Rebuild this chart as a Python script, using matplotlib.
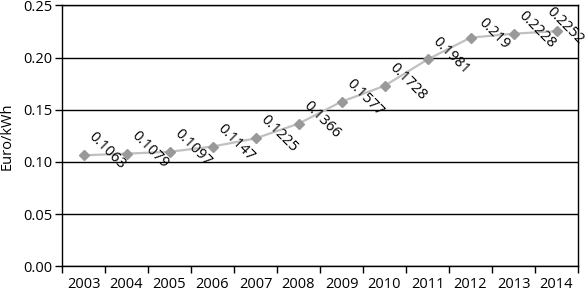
import matplotlib
matplotlib.use("Agg")
import matplotlib.pyplot as plt
import numpy as np

plt.rcParams['font.family'] = ['Open Sans', 'DejaVu Sans']

years = ["2003", "2004", "2005", "2006", "2007", "2008", "2009",
         "2010", "2011", "2012", "2013", "2014"]
values = [0.1063, 0.1079, 0.1097, 0.1147, 0.1225, 0.1366, 0.1577,
          0.1728, 0.1981, 0.219, 0.2228, 0.2252]
labels = ["0.1063", "0.1079", "0.1097", "0.1147", "0.1225", "0.1366", "0.1577",
          "0.1728", "0.1981", "0.219", "0.2228", "0.2252"]
yticks = [0.00, 0.05, 0.10, 0.15, 0.20, 0.25]
ytick_labels = ["0.00", "0.05", "0.10", "0.15", "0.20", "0.25"]

FS = 10.5

fig = plt.figure(figsize=(5.87, 2.96), dpi=100)
ax = fig.add_axes([62/587, 1-266.3/296, (578-62)/587, (266.3-5.3)/296])

x = np.arange(len(years)) + 0.5
ax.plot(x, values, color='#c0c0c0', lw=1.6, zorder=3,
        marker='D', markersize=5.0, markerfacecolor='#999999',
        markeredgecolor='#999999')

n = len(values)
for i, (xi, v, lab) in enumerate(zip(x, values, labels)):
    off = (6, 4) if i == n - 1 else (17, 3)
    ax.annotate(lab, (xi, v), xytext=off, textcoords='offset points',
                rotation=-45, ha='center', va='center', rotation_mode='anchor',
                fontsize=FS, color='black', zorder=5, annotation_clip=False)

ax.set_xlim(0, len(years))
ax.set_ylim(0, 0.25)
ax.set_yticks(yticks)
ax.set_yticklabels(ytick_labels, fontsize=FS)
ax.set_xticks(np.arange(len(years) + 1))
ax.set_xticklabels([])
ax.set_xticks(x, minor=True)
ax.set_xticklabels(years, minor=True, fontsize=FS)
ax.tick_params(axis='x', which='major', direction='out', length=5, width=1, color='black')
ax.tick_params(axis='x', which='minor', length=0, pad=8)
ax.tick_params(axis='y', direction='out', length=5, width=1, pad=2)
ax.grid(axis='y', color='black', lw=1, zorder=1)
ax.set_axisbelow(True)
for s in ax.spines.values():
    s.set_color('black')
    s.set_linewidth(1)

ax.set_ylabel("Euro/kWh", fontsize=FS, labelpad=6)

fig.savefig("out.png", dpi=100)
